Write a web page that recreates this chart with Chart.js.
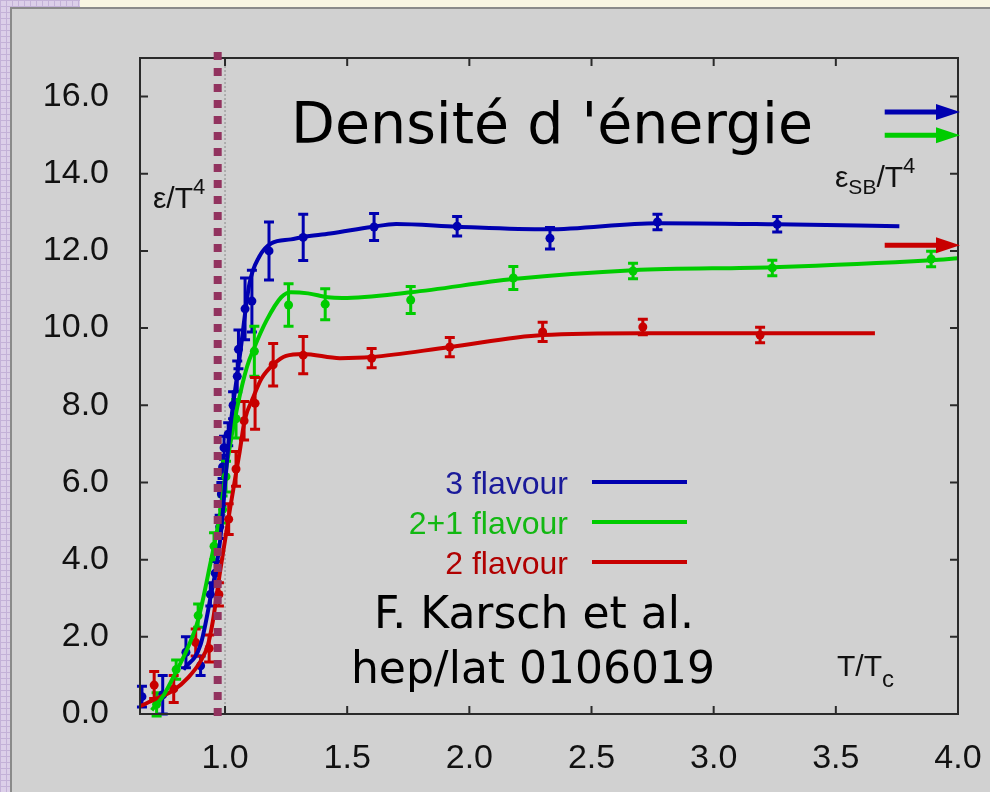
<!DOCTYPE html>
<html>
<head>
<meta charset="utf-8">
<script src="https://cdn.jsdelivr.net/npm/chart.js@4.4.1/dist/chart.umd.min.js"></script>
<style>
    html, body { margin: 0; padding: 0; }
    body {
        width: 990px;
        height: 792px;
        overflow: hidden;
        position: relative;
        background-color: #dccfe9;
        background-image: linear-gradient(#c4b2d8 1px, transparent 1px), linear-gradient(90deg, #c4b2d8 1px, transparent 1px);
        background-size: 6px 6px;
    }
    #topband { position: absolute; left: 80px; top: 0; width: 910px; height: 7px; background: #f8f5e2; }
    #slide { position: absolute; left: 10px; top: 7px; right: 0; bottom: 0; background: #d1d1d1; border-left: 2px solid #8a8a8a; border-top: 2px solid #8a8a8a; }
    #wrap { position: absolute; left: 0; top: 0; width: 990px; height: 792px; }
</style>
</head>
<body>
<div id="topband"></div>
<div id="slide"></div>
<div id="wrap"><canvas id="energyChart"></canvas></div>
<script>
// Axes
const xTicks = [1.0, 1.5, 2.0, 2.5, 3.0, 3.5, 4.0]
const yTicks = [0, 2, 4, 6, 8, 10, 12, 14, 16]

const labels = ['3 flavour', '2+1 flavour', '2 flavour']

// Mesures (T/Tc, eps/T^4, erreur)
const blueT = [0.66, 0.745, 0.84, 0.90, 0.94, 0.96, 0.978, 0.985, 0.99, 0.996, 1.013, 1.033, 1.05, 1.055, 1.082, 1.11, 1.18, 1.32, 1.61, 1.95, 2.33, 2.77, 3.26]
const blueE = [0.45, 0.5, 1.6, 1.25, 3.1, 3.65, 4.85, 5.7, 6.4, 6.9, 7.25, 8.0, 8.75, 9.45, 10.5, 10.7, 12.0, 12.35, 12.62, 12.64, 12.33, 12.75, 12.69]
const blueErr = [0.27, 0.5, 0.4, 0.25, 0.3, 0.3, 0.3, 0.3, 0.3, 0.3, 0.3, 0.35, 0.4, 0.5, 0.8, 0.8, 0.75, 0.6, 0.35, 0.25, 0.28, 0.2, 0.2]

const greenT = [0.72, 0.80, 0.89, 0.955, 0.99, 1.004, 1.045, 1.12, 1.26, 1.41, 1.76, 2.18, 2.67, 3.24, 3.89]
const greenE = [0.25, 1.15, 2.55, 4.35, 5.3, 6.15, 7.65, 9.4, 10.6, 10.62, 10.73, 11.3, 11.48, 11.56, 11.79]
const greenErr = [0.3, 0.25, 0.3, 0.35, 0.35, 0.4, 0.5, 0.65, 0.55, 0.4, 0.35, 0.3, 0.2, 0.2, 0.2]

const redT = [0.71, 0.79, 0.88, 0.935, 0.975, 1.015, 1.045, 1.078, 1.123, 1.197, 1.32, 1.60, 1.92, 2.30, 2.71, 3.19]
const redE = [0.75, 0.65, 1.85, 1.7, 3.1, 5.05, 6.35, 7.6, 8.05, 9.05, 9.3, 9.22, 9.51, 9.9, 10.03, 9.82]
const redErr = [0.35, 0.35, 0.35, 0.35, 0.3, 0.4, 0.45, 0.5, 0.67, 0.55, 0.48, 0.25, 0.25, 0.25, 0.2, 0.2]

// Courbes lissées
const blueCurveT = [0.83, 0.90, 0.94, 0.98, 1.01, 1.02, 1.06, 1.10, 1.14, 1.19, 1.27, 1.32, 1.43, 1.60, 1.70, 1.95, 2.32, 2.77, 3.26, 3.76]
const blueCurveE = [1.15, 1.8, 3.0, 4.5, 6.7, 7.35, 9.25, 11.15, 11.85, 12.2, 12.3, 12.36, 12.45, 12.62, 12.7, 12.63, 12.56, 12.72, 12.69, 12.64]
const greenCurveT = [0.70, 0.75, 0.80, 0.85, 0.89, 0.94, 0.98, 1.01, 1.05, 1.09, 1.12, 1.17, 1.23, 1.27, 1.34, 1.42, 1.48, 1.76, 2.18, 2.67, 3.24, 3.89, 4.0]
const greenCurveE = [0.1, 0.5, 1.1, 1.75, 2.44, 3.9, 5.2, 6.58, 7.95, 9.0, 9.5, 10.2, 10.8, 10.93, 10.9, 10.8, 10.78, 10.93, 11.27, 11.5, 11.58, 11.76, 11.81]
const redCurveT = [0.652, 0.72, 0.79, 0.85, 0.90, 0.93, 0.95, 0.98, 1.0, 1.02, 1.06, 1.08, 1.115, 1.15, 1.20, 1.25, 1.32, 1.47, 1.60, 1.92, 2.30, 2.71, 3.19, 3.66]
const redCurveE = [0.2, 0.4, 0.62, 0.95, 1.37, 1.79, 2.4, 3.7, 4.5, 5.3, 6.8, 7.6, 8.2, 8.7, 9.07, 9.28, 9.33, 9.22, 9.25, 9.51, 9.82, 9.87, 9.87, 9.87]

// Limites Stefan-Boltzmann (flèches) et Tc
const sbLimits = [15.6, 15.0, 12.15]
const arrowStart = 3.70
const tcMark = 0.97

const colors = ['#0000b0', '#00cc00', '#c80000']
const textColors = ['#1a1a9a', '#12b812', '#b00000']

function toPoints(xs, ys) {
    return xs.map((x, i) => ({ x: x, y: ys[i] }))
}

function curveDataset(xs, ys, color) {
    return {
        data: toPoints(xs, ys),
        showLine: true,
        borderColor: color,
        borderWidth: 4,
        pointRadius: 0,
        cubicInterpolationMode: 'monotone',
        fill: false
    }
}

function pointDataset(xs, ys, errs, color) {
    return {
        data: toPoints(xs, ys),
        errors: errs,
        showLine: false,
        borderColor: color,
        backgroundColor: color,
        pointRadius: 4.5,
        pointBorderWidth: 0
    }
}

// Dessine texte avec indices / exposants
function drawParts(ctx, x, y, parts) {
    parts.forEach(([text, size, dy]) => {
        ctx.font = size + 'px "Liberation Sans"'
        ctx.fillText(text, x, y + dy)
        x += ctx.measureText(text).width
    })
}

const overlayPlugin = {
    id: 'overlay',
    beforeDatasetsDraw(chart) {
        const { ctx, chartArea, scales } = chart
        ctx.save()
        // ligne pointillée fine à T = Tc
        const x1 = scales.x.getPixelForValue(1.0)
        ctx.strokeStyle = '#8a8a8a'
        ctx.lineWidth = 1
        ctx.setLineDash([2, 2])
        ctx.beginPath()
        ctx.moveTo(x1, chartArea.top)
        ctx.lineTo(x1, chartArea.bottom)
        ctx.stroke()
        ctx.setLineDash([])

        // barres d'erreur
        chart.data.datasets.forEach((ds) => {
            if (!ds.errors) return
            ctx.strokeStyle = ds.borderColor
            ctx.lineWidth = 3
            ds.data.forEach((p, i) => {
                const px = scales.x.getPixelForValue(p.x)
                const top = scales.y.getPixelForValue(p.y + ds.errors[i])
                const bot = scales.y.getPixelForValue(p.y - ds.errors[i])
                ctx.beginPath()
                ctx.moveTo(px, top)
                ctx.lineTo(px, bot)
                ctx.moveTo(px - 5, top)
                ctx.lineTo(px + 5, top)
                ctx.moveTo(px - 5, bot)
                ctx.lineTo(px + 5, bot)
                ctx.stroke()
            })
        })
        ctx.restore()
    },
    afterDraw(chart) {
        const { ctx, chartArea, scales } = chart
        const { left, right, top, bottom } = chartArea
        ctx.save()

        // cadre et graduations internes
        ctx.strokeStyle = '#2a2a2a'
        ctx.lineWidth = 2
        ctx.strokeRect(left, top, right - left, bottom - top)
        ctx.beginPath()
        yTicks.forEach((v) => {
            const py = scales.y.getPixelForValue(v)
            ctx.moveTo(left, py)
            ctx.lineTo(left + 8, py)
            ctx.moveTo(right, py)
            ctx.lineTo(right - 8, py)
        })
        xTicks.forEach((v) => {
            const px = scales.x.getPixelForValue(v)
            ctx.moveTo(px, bottom)
            ctx.lineTo(px, bottom - 8)
            ctx.moveTo(px, top)
            ctx.lineTo(px, top + 8)
        })
        ctx.stroke()

        // Tc en pointillés épais
        const xc = scales.x.getPixelForValue(tcMark)
        ctx.strokeStyle = '#92335f'
        ctx.lineWidth = 8
        ctx.setLineDash([8, 8])
        ctx.beginPath()
        ctx.moveTo(xc, top - 6)
        ctx.lineTo(xc, bottom + 4)
        ctx.stroke()
        ctx.setLineDash([])

        // flèches eps_SB
        sbLimits.forEach((v, i) => {
            const py = scales.y.getPixelForValue(v)
            const x0 = scales.x.getPixelForValue(arrowStart)
            const tip = right + 2
            ctx.strokeStyle = colors[i]
            ctx.fillStyle = colors[i]
            ctx.lineWidth = 5
            ctx.beginPath()
            ctx.moveTo(x0, py)
            ctx.lineTo(tip - 20, py)
            ctx.stroke()
            ctx.beginPath()
            ctx.moveTo(tip - 24, py - 8)
            ctx.lineTo(tip, py)
            ctx.lineTo(tip - 24, py + 8)
            ctx.closePath()
            ctx.fill()
        })

        // légende
        labels.forEach((label, i) => {
            ctx.font = '32px "Liberation Sans"'
            ctx.textAlign = 'right'
            ctx.textBaseline = 'alphabetic'
            ctx.fillStyle = textColors[i]
            ctx.fillText(label, 568, 494 + 40 * i)
            ctx.strokeStyle = colors[i]
            ctx.lineWidth = 4
            ctx.beginPath()
            ctx.moveTo(592, 482 + 40 * i)
            ctx.lineTo(687, 482 + 40 * i)
            ctx.stroke()
        })

        // titres des axes
        ctx.fillStyle = '#111'
        ctx.textAlign = 'left'
        drawParts(ctx, 153, 208, [['ε/T', 30, 0], ['4', 22, -14]])
        drawParts(ctx, 835, 187, [['ε', 30, 0], ['SB', 21, 7], ['/T', 30, 0], ['4', 22, -14]])
        drawParts(ctx, 837, 676, [['T/T', 30, 0], ['c', 24, 11]])

        // titre et référence
        ctx.textAlign = 'center'
        ctx.fillStyle = '#000'
        ctx.font = '57px "Comic Sans MS", "DejaVu Sans"'
        ctx.fillText('Densité d \'énergie', 552, 143)
        ctx.font = '44px "Comic Sans MS", "DejaVu Sans"'
        ctx.fillText('F. Karsch et al.', 534, 628)
        ctx.fillText('hep/lat 0106019', 533, 683)

        ctx.restore()
    }
}

const tickFont = { family: 'Liberation Sans', size: 34 }

new Chart(document.getElementById('energyChart'), {
    type: 'scatter',
    data: {
        datasets: [
            curveDataset(blueCurveT, blueCurveE, colors[0]),
            curveDataset(greenCurveT, greenCurveE, colors[1]),
            curveDataset(redCurveT, redCurveE, colors[2]),
            pointDataset(blueT, blueE, blueErr, colors[0]),
            pointDataset(greenT, greenE, greenErr, colors[1]),
            pointDataset(redT, redE, redErr, colors[2])
        ]
    },
    options: {
        responsive: true,
        maintainAspectRatio: false,
        animation: false,
        layout: { padding: { left: 0, top: 58, right: 32, bottom: 0 } },
        scales: {
            x: {
                type: 'linear',
                min: 0.652,
                max: 4.0,
                afterBuildTicks: (scale) => { scale.ticks = xTicks.map((v) => ({ value: v })) },
                afterFit: (scale) => {
                    scale.height = 78
                    scale.paddingLeft = 0
                    scale.paddingRight = 0
                },
                grid: { display: false },
                border: { display: false },
                ticks: {
                    padding: 16,
                    color: '#111',
                    font: tickFont,
                    autoSkip: false,
                    maxRotation: 0,
                    callback: (v) => Number(v).toFixed(1)
                }
            },
            y: {
                min: 0,
                max: 17,
                afterBuildTicks: (scale) => { scale.ticks = yTicks.map((v) => ({ value: v })) },
                afterFit: (scale) => {
                    scale.width = 140
                    scale.paddingTop = 0
                    scale.paddingBottom = 0
                },
                grid: { display: false },
                border: { display: false },
                ticks: {
                    padding: 23,
                    color: '#111',
                    font: tickFont,
                    callback: (v) => Number(v).toFixed(1)
                }
            }
        },
        plugins: {
            legend: { display: false },
            tooltip: { enabled: false }
        }
    },
    plugins: [overlayPlugin]
})
</script>
</body>
</html>
